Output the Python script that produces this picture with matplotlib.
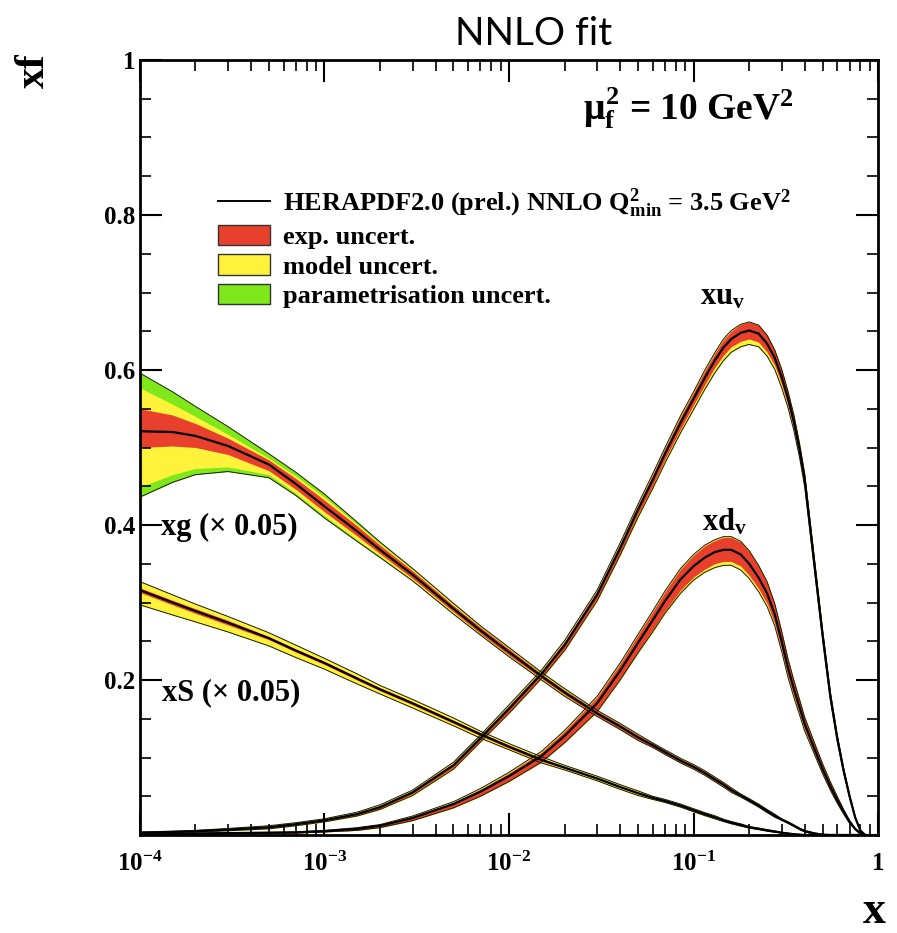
import numpy as np
import matplotlib
matplotlib.use('Agg')
import matplotlib.pyplot as plt
from matplotlib.ticker import FixedLocator, LogLocator, MultipleLocator, NullFormatter
from matplotlib.patches import Patch
from matplotlib.lines import Line2D

plt.rcParams['font.family'] = ['Liberation Serif', 'DejaVu Serif']
plt.rcParams['font.weight'] = 'bold'
plt.rcParams['mathtext.fontset'] = 'custom'
plt.rcParams['mathtext.rm'] = 'Liberation Serif:bold'
plt.rcParams['mathtext.it'] = 'Liberation Serif:bold'
plt.rcParams['mathtext.bf'] = 'Liberation Serif:bold'

x = [1e-4, 1.5e-4, 2e-4, 3e-4, 5e-4, 7e-4,
     1e-3, 1.5e-3, 2e-3, 3e-3, 5e-3, 7e-3,
     1e-2, 1.5e-2, 2e-2, 3e-2, 4e-2, 5e-2, 6e-2, 7e-2, 8.5e-2,
     0.1, 0.115, 0.13, 0.145, 0.16, 0.18, 0.2, 0.225, 0.25, 0.275, 0.3, 0.325, 0.35, 0.375, 0.4,
     0.45, 0.5, 0.55, 0.6, 0.65, 0.7, 0.75, 0.8, 0.85]

# xg (x 0.05): central value and cumulative band offsets (exp, +model, +param)
xg = [0.521, 0.520, 0.515, 0.502, 0.478, 0.453, 0.424, 0.392, 0.368, 0.336, 0.292, 0.264,
      0.236, 0.205, 0.184, 0.157, 0.140, 0.126, 0.116, 0.107, 0.096, 0.088, 0.080, 0.072,
      0.065, 0.058, 0.051, 0.045, 0.038, 0.031, 0.025, 0.020, 0.016, 0.012, 0.008, 0.005,
      0.002, 0.0005] + [0] * 7
xg_exp_up = [0.029, 0.022, 0.016, 0.010, 0.006, 0.007, 0.008, 0.007, 0.006, 0.005, 0.004, 0.004,
             0.004, 0.003, 0.003, 0.003, 0.003, 0.003, 0.0025, 0.0025, 0.002, 0.002, 0.002, 0.002,
             0.002, 0.002, 0.0015, 0.0015, 0.0015, 0.0015, 0.001, 0.001, 0.001, 0.001, 0.0005, 0.0005,
             0.0005, 0.0005] + [0] * 7
xg_exp_dn = [0.021, 0.018, 0.015, 0.011, 0.008, 0.007, 0.007, 0.006, 0.005, 0.005, 0.004, 0.004,
             0.004, 0.003, 0.003, 0.003, 0.003, 0.003, 0.0025, 0.0025, 0.002, 0.002, 0.002, 0.002,
             0.002, 0.002, 0.0015, 0.0015, 0.0015, 0.0015, 0.001, 0.001, 0.001, 0.001, 0.0005, 0.0005,
             0.0005, 0.0005] + [0] * 7
xg_mod_up = [0.056, 0.036, 0.025, 0.015, 0.008, 0.010, 0.012, 0.009, 0.008, 0.007, 0.006, 0.005,
             0.005, 0.004, 0.004, 0.0035, 0.0035, 0.0035, 0.003, 0.003, 0.0025, 0.0025, 0.0025, 0.0025,
             0.0025, 0.0025, 0.002, 0.002, 0.0015, 0.0015, 0.0015, 0.001, 0.001, 0.001, 0.001, 0.0005,
             0.0005, 0.0005] + [0] * 7
xg_mod_dn = [0.072, 0.055, 0.042, 0.027, 0.013, 0.012, 0.012, 0.011, 0.008, 0.007, 0.006, 0.005,
             0.005, 0.004, 0.004, 0.0035, 0.0035, 0.0035, 0.003, 0.003, 0.0025, 0.0025, 0.0025, 0.0025,
             0.0025, 0.0025, 0.002, 0.002, 0.0015, 0.0015, 0.0015, 0.001, 0.001, 0.001, 0.001, 0.0005,
             0.0005, 0.0005] + [0] * 7
xg_par_up = [0.075, 0.052, 0.038, 0.025, 0.014, 0.015, 0.016, 0.012, 0.010, 0.008, 0.007, 0.006,
             0.006, 0.005, 0.005, 0.004, 0.004, 0.004, 0.003, 0.003, 0.003, 0.003, 0.003, 0.003,
             0.003, 0.003, 0.002, 0.002, 0.002, 0.002, 0.002, 0.001, 0.001, 0.001, 0.001, 0.001,
             0.001, 0.0005] + [0] * 7
xg_par_dn = [0.085, 0.065, 0.050, 0.033, 0.017, 0.015, 0.015, 0.013, 0.010, 0.008, 0.007, 0.006,
             0.006, 0.005, 0.005, 0.004, 0.004, 0.004, 0.003, 0.003, 0.003, 0.003, 0.003, 0.003,
             0.003, 0.003, 0.002, 0.002, 0.002, 0.002, 0.002, 0.001, 0.001, 0.001, 0.001, 0.001,
             0.001, 0.0005] + [0] * 7

# xS (x 0.05)
xs = [0.316, 0.300, 0.289, 0.274, 0.254, 0.238, 0.222, 0.202, 0.188, 0.170, 0.146, 0.130,
      0.114, 0.097, 0.087, 0.073, 0.062, 0.054, 0.048, 0.044, 0.038, 0.032, 0.027, 0.023,
      0.019, 0.016, 0.013, 0.010, 0.008, 0.006, 0.0045, 0.003, 0.002, 0.001, 0.0005] + [0] * 10
xs_exp = [0.003, 0.003, 0.003, 0.003, 0.002, 0.002, 0.002, 0.002, 0.002, 0.002, 0.002, 0.002,
          0.002, 0.002, 0.001, 0.001, 0.001, 0.001, 0.001, 0.001, 0.001, 0.001, 0.001, 0.001,
          0.001, 0.001, 0.001, 0.0005, 0.0005, 0.0005, 0.0005, 0.0005, 0.0005, 0.0005, 0.0005] + [0] * 10
xs_mod_up = [0.011, 0.010, 0.009, 0.008, 0.007, 0.007, 0.006, 0.006, 0.005, 0.005, 0.005, 0.004,
             0.004, 0.004, 0.003, 0.003, 0.003, 0.003, 0.002, 0.002, 0.002, 0.002, 0.002, 0.002,
             0.0015, 0.0015, 0.0015, 0.001, 0.001, 0.001, 0.001, 0.0005, 0.0005, 0.0005, 0.0005] + [0] * 10
xs_mod_dn = [0.019, 0.016, 0.014, 0.012, 0.010, 0.009, 0.008, 0.007, 0.006, 0.006, 0.005, 0.005,
             0.004, 0.004, 0.003, 0.003, 0.003, 0.003, 0.002, 0.002, 0.002, 0.002, 0.002, 0.002,
             0.0015, 0.0015, 0.0015, 0.001, 0.001, 0.001, 0.001, 0.0005, 0.0005, 0.0005, 0.0005] + [0] * 10

# xu_v
xuv = [0.003, 0.004, 0.005, 0.007, 0.010, 0.014, 0.019, 0.027, 0.036, 0.055, 0.090, 0.125,
       0.163, 0.208, 0.245, 0.310, 0.370, 0.420, 0.458, 0.492, 0.532, 0.563, 0.590, 0.612,
       0.629, 0.640, 0.648, 0.651, 0.647, 0.634, 0.616, 0.591, 0.563, 0.532, 0.497, 0.458,
       0.352, 0.258, 0.180, 0.125, 0.083, 0.050, 0.023, 0.006, 0.0]
xuv_exp = [0.0005, 0.0005, 0.0005, 0.001, 0.001, 0.001, 0.001, 0.0015, 0.002, 0.002, 0.003, 0.003,
           0.004, 0.004, 0.005, 0.005, 0.006, 0.006, 0.007, 0.007, 0.008, 0.008, 0.009, 0.009,
           0.010, 0.010, 0.011, 0.011, 0.011, 0.011, 0.010, 0.010, 0.009, 0.009, 0.008, 0.008,
           0.007, 0.006, 0.005, 0.004, 0.003, 0.002, 0.001, 0.0005, 0]
xuv_mod_up = [0.001, 0.001, 0.001, 0.0015, 0.002, 0.002, 0.002, 0.0025, 0.003, 0.003, 0.004, 0.004,
              0.005, 0.005, 0.006, 0.006, 0.007, 0.007, 0.008, 0.008, 0.009, 0.009, 0.010, 0.010,
              0.011, 0.011, 0.011, 0.011, 0.011, 0.011, 0.010, 0.010, 0.009, 0.009, 0.008, 0.008,
              0.007, 0.006, 0.005, 0.004, 0.003, 0.002, 0.001, 0.0005, 0]
xuv_mod_dn = [0.001, 0.001, 0.001, 0.0015, 0.002, 0.002, 0.002, 0.0025, 0.003, 0.004, 0.005, 0.005,
              0.006, 0.006, 0.007, 0.008, 0.009, 0.010, 0.011, 0.012, 0.013, 0.014, 0.015, 0.016,
              0.017, 0.017, 0.018, 0.018, 0.017, 0.016, 0.015, 0.014, 0.012, 0.011, 0.010, 0.009,
              0.007, 0.006, 0.005, 0.004, 0.003, 0.002, 0.001, 0.0005, 0]

# xd_v
xdv = [0.001, 0.0015, 0.002, 0.0025, 0.003, 0.0035, 0.005, 0.008, 0.012, 0.022, 0.040, 0.056,
       0.076, 0.102, 0.128, 0.170, 0.212, 0.248, 0.277, 0.302, 0.330, 0.347, 0.358, 0.365,
       0.368, 0.368, 0.362, 0.350, 0.332, 0.312, 0.285, 0.250, 0.215, 0.188, 0.165, 0.143,
       0.112, 0.085, 0.063, 0.045, 0.030, 0.017, 0.008, 0.002, 0.0]
xdv_exp_up = [0, 0, 0, 0, 0, 0, 0.0005, 0.001, 0.001, 0.002, 0.002, 0.003,
              0.004, 0.005, 0.006, 0.008, 0.009, 0.010, 0.011, 0.012, 0.013, 0.014, 0.015, 0.015,
              0.016, 0.016, 0.016, 0.016, 0.015, 0.014, 0.013, 0.012, 0.011, 0.010, 0.009, 0.008,
              0.007, 0.006, 0.005, 0.004, 0.003, 0.002, 0.001, 0.0005, 0]
xdv_exp_dn = [0.0005, 0.0005, 0.0005, 0.001, 0.001, 0.001, 0.001, 0.002, 0.002, 0.003, 0.004, 0.005,
              0.006, 0.007, 0.008, 0.009, 0.010, 0.011, 0.012, 0.013, 0.014, 0.014, 0.015, 0.015,
              0.015, 0.015, 0.015, 0.015, 0.014, 0.013, 0.012, 0.011, 0.010, 0.009, 0.008, 0.007,
              0.006, 0.005, 0.004, 0.003, 0.002, 0.002, 0.001, 0.0005, 0]
xdv_mod_up = [0.0005, 0.0005, 0.0005, 0.0005, 0.0005, 0.0005, 0.001, 0.0015, 0.0015, 0.0025, 0.003, 0.004,
              0.005, 0.006, 0.007, 0.009, 0.010, 0.011, 0.012, 0.013, 0.014, 0.015, 0.016, 0.016,
              0.017, 0.017, 0.017, 0.017, 0.016, 0.015, 0.014, 0.013, 0.012, 0.011, 0.010, 0.009,
              0.008, 0.007, 0.006, 0.005, 0.003, 0.002, 0.001, 0.0005, 0]
xdv_mod_dn = [0.0005, 0.0005, 0.0005, 0.001, 0.001, 0.001, 0.001, 0.002, 0.0025, 0.0035, 0.005, 0.006,
              0.007, 0.008, 0.009, 0.011, 0.012, 0.013, 0.015, 0.016, 0.018, 0.018, 0.019, 0.020,
              0.020, 0.020, 0.020, 0.019, 0.018, 0.017, 0.015, 0.013, 0.012, 0.011, 0.010, 0.009,
              0.007, 0.006, 0.005, 0.004, 0.003, 0.002, 0.001, 0.0005, 0]

red = '#e8402c'
yellow = '#fff23a'
green = '#7ee81a'

pdfs = [
    (xg, xg_exp_up, xg_exp_dn, xg_mod_up, xg_mod_dn, xg_par_up, xg_par_dn),
    (xs, xs_exp, xs_exp, xs_mod_up, xs_mod_dn, xs_mod_up, xs_mod_dn),
    (xdv, xdv_exp_up, xdv_exp_dn, xdv_mod_up, xdv_mod_dn, xdv_mod_up, xdv_mod_dn),
    (xuv, xuv_exp, xuv_exp, xuv_mod_up, xuv_mod_dn, xuv_mod_up, xuv_mod_dn),
]

fig = plt.figure(figsize=(8.97, 9.33), dpi=100)
ax = fig.add_axes([0.156, 0.105, 0.823, 0.8307])

xa = np.array(x)
for c, eu, ed, mu, md, pu, pd in pdfs:
    c = np.array(c)
    ax.fill_between(xa, c - np.array(pd), c + np.array(pu), color=green, lw=0)
    ax.fill_between(xa, c - np.array(md), c + np.array(mu), color=yellow, lw=0)
    ax.fill_between(xa, c - np.array(ed), c + np.array(eu), color=red, lw=0)
    ax.plot(xa, c + np.array(pu), color='#1a1a00', lw=0.7)
    ax.plot(xa, c - np.array(pd), color='#1a1a00', lw=0.7)
    ax.plot(xa, c, color='black', lw=1.6)

ax.set_xscale('log')
ax.set_xlim(1e-4, 1)
ax.set_ylim(0, 1)

ax.xaxis.set_major_locator(FixedLocator([1e-4, 1e-3, 1e-2, 1e-1, 1]))
ax.set_xticklabels([r'$10^{-4}$', r'$10^{-3}$', r'$10^{-2}$', r'$10^{-1}$', '1'])
ax.xaxis.set_minor_locator(LogLocator(base=10, subs=np.arange(2, 10)))
ax.xaxis.set_minor_formatter(NullFormatter())
ax.yaxis.set_major_locator(FixedLocator([0, 0.2, 0.4, 0.6, 0.8, 1]))
ax.set_yticklabels(['', '0.2', '0.4', '0.6', '0.8', '1'])
ax.yaxis.set_minor_locator(MultipleLocator(0.05))

ax.tick_params(which='both', direction='in', top=True, right=True, labelsize=18)
ax.tick_params(axis='x', which='major', pad=12)
ax.tick_params(which='major', length=16, width=1.5)
ax.tick_params(which='minor', length=8, width=1.2)
for s in ax.spines.values():
    s.set_linewidth(2)

handles = [Line2D([], [], color='black', lw=1.4),
           Patch(facecolor=red, edgecolor='#333333', lw=1),
           Patch(facecolor=yellow, edgecolor='#333333', lw=1),
           Patch(facecolor=green, edgecolor='#333333', lw=1)]
labels = [r'HERAPDF2.0 (prel.) NNLO $\mathregular{Q^2_{min}}$ = 3.5 GeV$^2$',
          'exp. uncert.', 'model uncert.', 'parametrisation uncert.']
ax.legend(handles, labels, loc='upper left', bbox_to_anchor=(0.106, 0.838), frameon=False,
          fontsize=19, handlelength=1.95, handleheight=0.8, handletextpad=0.5,
          labelspacing=0.2, borderpad=0, borderaxespad=0)

ax.text(0.60, 0.938, r'$\mu_f^2$ = 10 GeV$^2$', transform=ax.transAxes, fontsize=27,
        ha='left', va='center')
ax.text(0.759, 0.694, r'xu$_v$', transform=ax.transAxes, fontsize=22, ha='left', va='center')
ax.text(0.761, 0.404, r'xd$_v$', transform=ax.transAxes, fontsize=22, ha='left', va='center')
ax.text(0.028, 0.397, 'xg (\u00d7 0.05)', transform=ax.transAxes, fontsize=22, ha='left', va='center')
ax.text(0.030, 0.183, 'xS (\u00d7 0.05)', transform=ax.transAxes, fontsize=22, ha='left', va='center')

fig.text(0.595, 0.964, 'NNLO fit', ha='center', va='center', fontsize=28,
         family=['Lato', 'DejaVu Sans'], fontweight='normal')
fig.text(0.038, 0.924, 'xf', rotation=90, ha='center', va='center', fontsize=30)
fig.text(0.975, 0.011, 'x', ha='center', va='baseline', fontsize=33)

fig.savefig('out.png', dpi=100)
